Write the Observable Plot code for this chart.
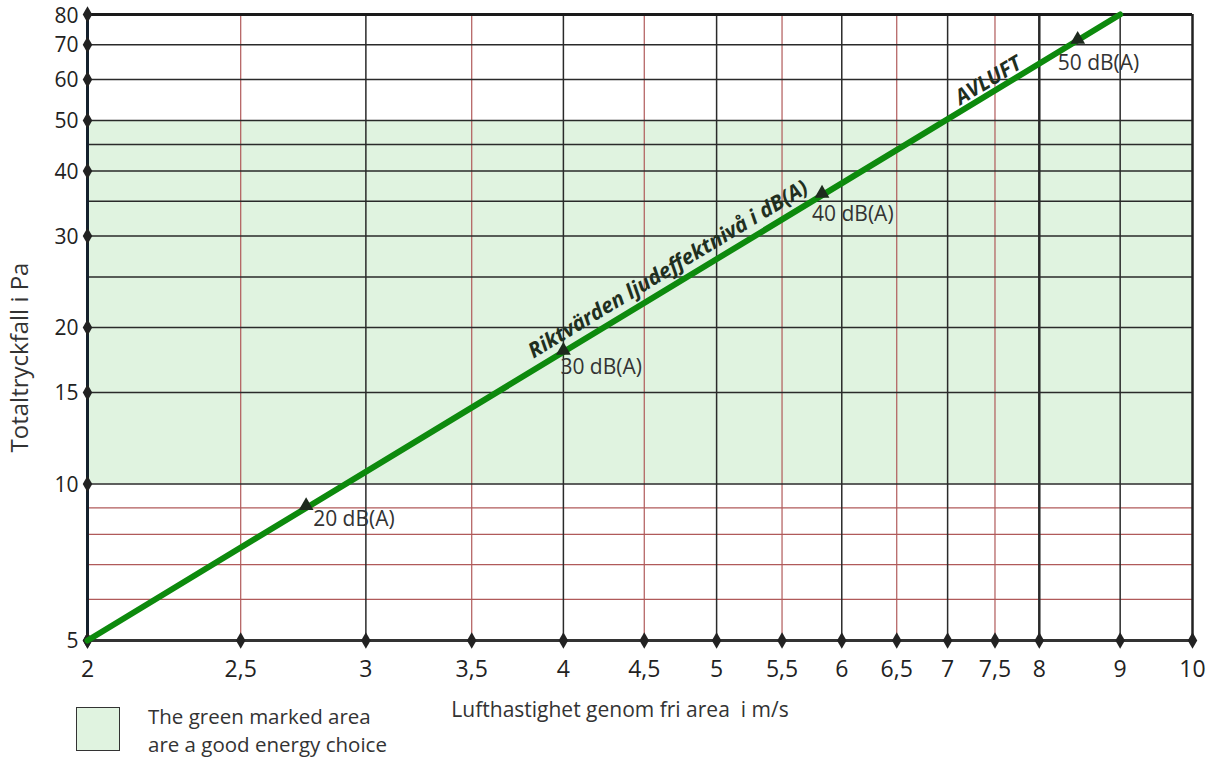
<!DOCTYPE html>
<html><head><meta charset="utf-8">
<script src="https://cdn.jsdelivr.net/npm/d3@7"></script>
<script src="https://cdn.jsdelivr.net/npm/@observablehq/plot@0.6"></script>
<style>
body{margin:0;background:#fff;font-family:"Open Sans",sans-serif}
#wrap{position:relative;width:1211px;height:760px}
#legend{position:absolute;left:76px;top:707px;display:flex;align-items:flex-start}
#legend .sw{width:44px;height:44px;background:#e0f3e0;border:1px solid #333;box-sizing:border-box}
#legend .tx{margin-left:28px;font-size:20.5px;line-height:28px;color:#333;margin-top:-5px}
</style></head><body><div id="wrap"></div>
<script>
const xTicks = [2, 2.5, 3, 3.5, 4, 4.5, 5, 5.5, 6, 6.5, 7, 7.5, 8, 9, 10];
const yTicks = [5, 10, 15, 20, 30, 40, 50, 60, 70, 80];
const xMajor = [3, 4, 5, 6, 7, 9];
const xHeavy = [8];
const xMinor = [2.5, 3.5, 4.5, 5.5, 6.5, 7.5];
const yMajor = [10, 15, 20, 25, 30, 35, 40, 45, 50, 60, 70];
const yMinor = [6, 7, 8, 9];
const zoneX = [2, 10];
const zoneY = [10, 50];
const lineX = [2, 9];
const lineY = [5, 80];
const markerX = [2.75, 4, 5.83, 8.46];
const markerY = [9, 17.9, 35.9, 71];
const markerLabels = ["20 dB(A)", "30 dB(A)", "40 dB(A)", "50 dB(A)"];
const curveLabel = "Riktvärden ljudeffektnivå i dB(A)";
const curveLabelAt = [4.7, 24];
const seriesLabel = "AVLUFT";
const seriesLabelAt = [7.45, 56.4];
const xTitle = "Lufthastighet genom fri area  i m/s";
const yTitle = "Totaltryckfall i Pa";
const legendText = ["The green marked area", "are a good energy choice"];

const fmt = d => String(d).replace(".", ",");
const lineData = lineX.map((x, i) => ({x, y: lineY[i]}));
const markers = markerX.map((x, i) => ({x, y: markerY[i], label: markerLabels[i]}));
const labelOffsets = [[7, 11], [-3, 15], [-10, 19], [-20, 22]];
const ang = -31.2;
const yTop = yTicks[yTicks.length - 1];

const plot = Plot.plot({
  width: 1211, height: 760,
  marginLeft: 87, marginRight: 19, marginTop: 14, marginBottom: 120,
  style: {fontFamily: "'Open Sans', sans-serif", fontSize: "22px", color: "#222", background: "white", overflow: "visible"},
  x: {type: "log", domain: [2, 10], axis: null},
  y: {type: "log", domain: [5, 80], axis: null},
  marks: [
    Plot.rect([{x1: zoneX[0], x2: zoneX[1], y1: zoneY[0], y2: zoneY[1]}], {x1: "x1", x2: "x2", y1: "y1", y2: "y2", fill: "#e0f3e0"}),
    Plot.ruleY(yMinor, {stroke: "#b05a5a", strokeWidth: 1.2}),
    Plot.ruleX(xMinor, {stroke: "#b05a5a", strokeWidth: 1.2}),
    Plot.ruleY(yMajor, {stroke: "#2a2a2a", strokeWidth: 1.5}),
    Plot.ruleX(xMajor, {stroke: "#2a2a2a", strokeWidth: 1.5}),
    Plot.ruleX(xHeavy, {stroke: "#2a2a2a", strokeWidth: 2.5}),
    Plot.ruleY([80], {stroke: "#1a1a1a", strokeWidth: 3}),
    Plot.ruleY([5], {stroke: "#333", strokeWidth: 3}),
    Plot.ruleX([2], {stroke: "#14202c", strokeWidth: 3}),
    Plot.ruleX([10], {stroke: "#222", strokeWidth: 2.5}),
    Plot.text(xTicks, {x: d => d, frameAnchor: "bottom", dy: 29, textAnchor: "middle", lineAnchor: "middle", text: fmt, fontSize: 23, fill: "#222"}),
    Plot.text(yTicks.filter(d => d !== yTop), {y: d => d, frameAnchor: "left", dx: -9, dy: 1, textAnchor: "end", lineAnchor: "middle", text: fmt, fontSize: 21, fill: "#222"}),
    Plot.text([yTop], {y: d => d, frameAnchor: "left", dx: -9, dy: 2, textAnchor: "end", lineAnchor: "middle", text: fmt, fontSize: 21, fill: "#222"}),
    Plot.dot(xTicks, {x: d => d, y: () => 5, symbol: "diamond", r: 5, fill: "#222"}),
    Plot.dot(yTicks, {x: () => 2, y: d => d, symbol: "diamond", r: 5, fill: "#222"}),
    Plot.line(lineData, {x: "x", y: "y", stroke: "#0d8a0d", strokeWidth: 6}),
    Plot.dot(markers, {x: "x", y: "y", symbol: "triangle", r: 5.5, fill: "#1e2a1e", dy: -2}),
    ...markers.map((m, i) => Plot.text([m], {x: "x", y: "y", text: "label", textAnchor: "start", dx: labelOffsets[i][0], dy: labelOffsets[i][1], fontSize: 21, fill: "#333"})),
    Plot.text([{x: curveLabelAt[0], y: curveLabelAt[1], t: curveLabel}], {x: "x", y: "y", text: "t", rotate: ang, dy: -17, dx: -6, fontSize: 21, fontWeight: "bold", fontStyle: "italic", fill: "#1f2f1f"}),
    Plot.text([{x: seriesLabelAt[0], y: seriesLabelAt[1], t: seriesLabel}], {x: "x", y: "y", text: "t", rotate: ang, dy: -13, dx: -2, fontSize: 21, fontWeight: "bold", fontStyle: "italic", fill: "#1f2f1f"}),
    Plot.text([xTitle], {frameAnchor: "bottom", dy: 76, dx: -20, fontSize: 21, fill: "#333"}),
    Plot.text([yTitle], {frameAnchor: "left", textAnchor: "middle", lineAnchor: "middle", rotate: -90, dx: -67, dy: 30, fontSize: 24, fill: "#333"})
  ]
});
const wrap = document.getElementById("wrap");
wrap.appendChild(plot);
const lg = document.createElement("div");
lg.id = "legend";
lg.innerHTML = `<div class="sw"></div><div class="tx">${legendText.join("<br>")}</div>`;
wrap.appendChild(lg);
</script>
</body></html>
